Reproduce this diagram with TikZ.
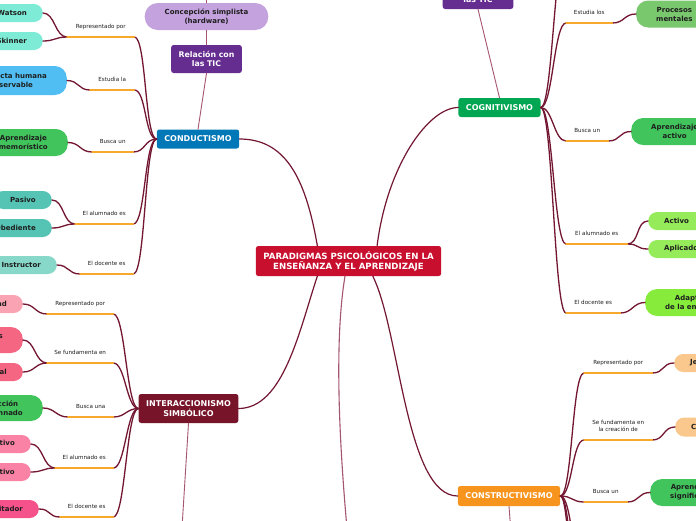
\documentclass[tikz,border=0pt]{standalone}
\usepackage{fontspec}
\setmainfont{DejaVu Sans}

\definecolor{rojoc}{RGB}{200,16,46}
\definecolor{azulc}{RGB}{0,119,182}
\definecolor{verdec}{RGB}{0,166,81}
\definecolor{granatec}{RGB}{120,20,42}
\definecolor{naranjac}{RGB}{247,148,29}
\definecolor{morado}{RGB}{102,45,145}
\definecolor{lila}{RGB}{196,162,222}
\definecolor{granate}{RGB}{115,22,50}
\definecolor{naranja}{RGB}{247,168,45}
\definecolor{rosaviejo}{RGB}{165,85,110}
\definecolor{aguamarina}{RGB}{125,235,213}
\definecolor{celeste}{RGB}{80,190,242}
\definecolor{verdeh}{RGB}{66,196,92}
\definecolor{turquesa}{RGB}{85,196,180}
\definecolor{menta}{RGB}{135,216,200}
\definecolor{rosa}{RGB}{250,163,178}
\definecolor{rosaf}{RGB}{245,102,130}
\definecolor{rosam}{RGB}{250,130,165}
\definecolor{fucsia}{RGB}{245,82,140}
\definecolor{verdep}{RGB}{122,200,110}
\definecolor{lima}{RGB}{150,235,90}
\definecolor{limaf}{RGB}{135,235,60}
\definecolor{melocoton}{RGB}{250,200,140}
\definecolor{tinta}{RGB}{30,30,30}

\begin{document}
\begin{tikzpicture}[x=1pt, y=-1pt, line cap=round, line join=round,
  tema/.style={fill=#1, text=white, font=\fontsize{8}{10}\selectfont\bfseries, rounded corners=2.5pt,
    minimum height=19pt, inner xsep=7.5pt, inner ysep=2pt, align=center},
  hoja/.style={fill=#1, text=tinta, font=\fontsize{7}{9}\selectfont\bfseries, rounded corners=9pt,
    minimum height=18pt, inner xsep=16pt, inner ysep=2pt, align=center},
  hojados/.style={hoja=#1, minimum height=27pt, inner xsep=20pt, rounded corners=12pt},
  etiq/.style={anchor=south west, font=\fontsize{5.6}{7}\selectfont, text=tinta, inner xsep=0pt,
    inner ysep=8pt, text depth=0pt, align=center},
  rama/.style={draw=granate, line width=1.3pt},
  subr/.style={draw=naranja, line width=1.4pt},
  tronco/.style={draw=granate, line width=1.2pt},
  enlace/.style={draw=rosaviejo, line width=0.9pt}]

\useasboundingbox[fill=white] (0,0) rectangle (696,520);
\clip (0,0) rectangle (696,520);

% centro y temas
\node[tema=rojoc, font=\fontsize{8.6}{10}\selectfont\bfseries, minimum height=30pt] (par) at (348.5,261) {PARADIGMAS PSICOLÓGICOS EN LA\\ENSEÑANZA Y EL APRENDIZAJE};
\node[tema=azulc] (cond) at (198,139) {CONDUCTISMO};
\node[tema=verdec] (cogn) at (499.5,107.5) {COGNITIVISMO};
\node[tema=granatec, minimum height=29pt] (inter) at (188.5,408.5) {INTERACCIONISMO\\SIMBÓLICO};
\node[tema=naranjac, minimum height=20pt] (cons) at (509,496) {CONSTRUCTIVISMO};
\node[tema=morado, font=\fontsize{7.8}{9.5}\selectfont\bfseries, minimum height=28pt] (ticI) at (206.5,59) {Relación con\\las TIC};
\node[tema=morado, font=\fontsize{7.8}{9.5}\selectfont\bfseries, minimum height=28pt] (ticD) at (478,-5) {Relación con\\las TIC};
\node[hojados=lila, rounded corners=13pt] (concep) at (206.5,16.5) {Concepción simplista\\(hardware)};

\coordinate (arrI) at (207,-40);
\coordinate (bajoI) at (180,560);
\coordinate (bajoP) at (350,560);
\coordinate (bajoC) at (513,560);
\coordinate (cgZ) at (566,-50);
\coordinate (csZa) at (584,570);
\coordinate (csZb) at (584,640);
\coordinate (csZc) at (584,710);

\draw[tronco] (cond.east) .. controls +(45,0) and +(-12,-70) .. (par.154);
\draw[tronco] (cogn.west) .. controls +(-30,0) and +(10,-80) .. (par.28);
\draw[tronco] (par.206) .. controls +(-18,54) and +(45,0) .. (inter.east);
\draw[tronco] (par.328) .. controls +(27,54) and +(-52,0) .. (cons.west);
\draw[enlace, line width=1.1pt] (par.257) .. controls (336,330) and (336,420) .. (bajoP);
\draw[enlace] (cond.north) -- (ticI.south);
\draw[enlace] (ticI.north) -- (concep.south);
\draw[enlace] (concep.north) -- (arrI);
\draw[enlace] (ticD.south) -- (cogn.north);
\draw[enlace] (inter.south) -- (bajoI);
\draw[enlace] (cons.south) -- (bajoC);

% conductismo
\node[etiq, minimum width=67pt] (cdA) at (67,37) {Representado por};
\node[etiq, minimum width=44pt] (cdB) at (90,90) {Estudia la};
\node[etiq, minimum width=41pt] (cdC) at (92,152) {Busca un};
\node[etiq, minimum width=58pt] (cdD) at (75,224) {El alumnado es};
\node[etiq, minimum width=53pt] (cdE) at (80,274) {El docente es};
\node[hoja=aguamarina, anchor=east] (wat) at (43,13) {Watson};
\node[hoja=aguamarina, anchor=east] (ski) at (43,41) {Skinner};
\node[hojados=celeste, anchor=east, minimum height=29pt] (obs) at (67,80.5) {Conducta humana\\observable};
\node[hojados=verdeh, anchor=east] (mem) at (68,142.5) {Aprendizaje\\memorístico};
\node[hoja=turquesa, anchor=east] (pas) at (52,200) {Pasivo};
\node[hoja=turquesa, anchor=east] (obe) at (52,228) {Obediente};
\node[hoja=menta, anchor=east] (ins) at (57,265) {Instructor};
\draw[rama] (cond.west) .. controls +(-12,0) and +(12,0) .. (cdA.south east);
\draw[rama] (cond.west) .. controls +(-12,0) and +(12,0) .. (cdB.south east);
\draw[rama] (cond.west) .. controls +(-12,0) and +(12,0) .. (cdC.south east);
\draw[rama] (cond.west) .. controls +(-12,0) and +(12,0) .. (cdD.south east);
\draw[rama] (cond.west) .. controls +(-12,0) and +(12,0) .. (cdE.south east);
\draw[rama] (cdA.south west) .. controls +(-12,0) and +(12,0) .. (wat.east);
\draw[rama] (cdA.south west) .. controls +(-12,0) and +(12,0) .. (ski.east);
\draw[rama] (cdB.south west) .. controls +(-12,0) and +(12,0) .. (obs.east);
\draw[rama] (cdC.south west) .. controls +(-12,0) and +(12,0) .. (mem.east);
\draw[rama] (cdD.south west) .. controls +(-12,0) and +(12,0) .. (pas.east);
\draw[rama] (cdD.south west) .. controls +(-12,0) and +(12,0) .. (obe.east);
\draw[rama] (cdE.south west) .. controls +(-12,0) and +(12,0) .. (ins.east);
\draw[subr] (cdA.south west) -- (cdA.south east);
\draw[subr] (cdB.south west) -- (cdB.south east);
\draw[subr] (cdC.south west) -- (cdC.south east);
\draw[subr] (cdD.south west) -- (cdD.south east);
\draw[subr] (cdE.south west) -- (cdE.south east);

% interaccionismo simbolico
\node[etiq, minimum width=66pt] (inA) at (47,314) {Representado por};
\node[etiq, minimum width=66pt] (inB) at (47,363) {Se fundamenta en};
\node[etiq, minimum width=45pt] (inC) at (68,417) {Busca una};
\node[etiq, minimum width=58pt] (inD) at (55,468) {El alumnado es};
\node[etiq, minimum width=53pt] (inE) at (60,517) {El docente es};
\node[hoja=rosa, anchor=east] (mead) at (23,304) {Mead};
\node[hojados=rosaf, anchor=east, minimum height=26pt] (simb) at (23,340) {Los símbolos\\sociales};
\node[hoja=rosaf, anchor=east] (soc) at (23,372) {Interacción social};
\node[hojados=verdeh, anchor=east, minimum height=26pt] (intal) at (43,408) {Interacción\\del alumnado};
\node[hoja=rosam, anchor=east] (part) at (31,444) {Participativo};
\node[hoja=rosam, anchor=east] (colab) at (31,472) {Colaborativo};
\node[hoja=fucsia, anchor=east] (fac) at (39,509) {Facilitador};
\draw[rama] (inter.west) .. controls +(-12,0) and +(12,0) .. (inA.south east);
\draw[rama] (inter.west) .. controls +(-12,0) and +(12,0) .. (inB.south east);
\draw[rama] (inter.west) .. controls +(-12,0) and +(12,0) .. (inC.south east);
\draw[rama] (inter.west) .. controls +(-12,0) and +(12,0) .. (inD.south east);
\draw[rama] (inter.west) .. controls +(-12,0) and +(12,0) .. (inE.south east);
\draw[rama] (inA.south west) .. controls +(-12,0) and +(12,0) .. (mead.east);
\draw[rama] (inB.south west) .. controls +(-12,0) and +(12,0) .. (simb.east);
\draw[rama] (inB.south west) .. controls +(-12,0) and +(12,0) .. (soc.east);
\draw[rama] (inC.south west) .. controls +(-12,0) and +(12,0) .. (intal.east);
\draw[rama] (inD.south west) .. controls +(-12,0) and +(12,0) .. (part.east);
\draw[rama] (inD.south west) .. controls +(-12,0) and +(12,0) .. (colab.east);
\draw[rama] (inE.south west) .. controls +(-12,0) and +(12,0) .. (fac.east);
\draw[subr] (inA.south west) -- (inA.south east);
\draw[subr] (inB.south west) -- (inB.south east);
\draw[subr] (inC.south west) -- (inC.south east);
\draw[subr] (inD.south west) -- (inD.south east);
\draw[subr] (inE.south west) -- (inE.south east);

% cognitivismo
\node[etiq, minimum width=46pt] (cgA) at (566,23) {Estudia los};
\node[etiq, minimum width=42pt] (cgB) at (566,141) {Busca un};
\node[etiq, minimum width=61pt] (cgC) at (566,244) {El alumnado es};
\node[etiq, minimum width=54pt] (cgD) at (566,313) {El docente es};
\node[hojados=verdep, anchor=west] (proc) at (636,14) {Procesos\\mentales};
\node[hojados=verdeh, anchor=west] (aact) at (631,131.5) {Aprendizaje\\activo};
\node[hoja=lima, anchor=west] (acti) at (648,221) {Activo};
\node[hoja=lima, anchor=west] (apli) at (648,249) {Aplicado};
\node[hojados=limaf, anchor=west] (adap) at (645,302.5) {Adaptación\\de la enseñanza};
\draw[rama] (cogn.east) .. controls +(12,0) and +(-12,0) .. (cgZ);
\draw[rama] (cogn.east) .. controls +(12,0) and +(-12,0) .. (cgA.south west);
\draw[rama] (cogn.east) .. controls +(12,0) and +(-12,0) .. (cgB.south west);
\draw[rama] (cogn.east) .. controls +(12,0) and +(-12,0) .. (cgC.south west);
\draw[rama] (cogn.east) .. controls +(12,0) and +(-12,0) .. (cgD.south west);
\draw[rama] (cgA.south east) .. controls +(12,0) and +(-12,0) .. (proc.west);
\draw[rama] (cgB.south east) .. controls +(12,0) and +(-12,0) .. (aact.west);
\draw[rama] (cgC.south east) .. controls +(12,0) and +(-12,0) .. (acti.west);
\draw[rama] (cgC.south east) .. controls +(12,0) and +(-12,0) .. (apli.west);
\draw[rama] (cgD.south east) .. controls +(12,0) and +(-12,0) .. (adap.west);
\draw[subr] (cgA.south west) -- (cgA.south east);
\draw[subr] (cgB.south west) -- (cgB.south east);
\draw[subr] (cgC.south west) -- (cgC.south east);
\draw[subr] (cgD.south west) -- (cgD.south east);

% constructivismo
\node[etiq, minimum width=68pt] (csA) at (584,373) {Representado por};
\node[etiq, minimum width=68pt] (csB) at (584,440) {Se fundamenta en\\la creación de};
\node[etiq, minimum width=43pt] (csC) at (584,502) {Busca un};
\node[hoja=melocoton, anchor=west] (piag) at (674,363) {Jean Piaget};
\node[hoja=melocoton, anchor=west, minimum height=19pt] (cono) at (675,427) {Conocimiento};
\node[hojados=verdeh, anchor=west] (asig) at (650,492.5) {Aprendizaje\\significativo};
\draw[rama] (cons.east) .. controls +(12,0) and +(-12,0) .. (csA.south west);
\draw[rama] (cons.east) .. controls +(12,0) and +(-12,0) .. (csB.south west);
\draw[rama] (cons.east) .. controls +(12,0) and +(-12,0) .. (csC.south west);
\draw[rama] (cons.east) .. controls +(12,0) and +(-12,0) .. (csZa);
\draw[rama] (cons.east) .. controls +(12,0) and +(-12,0) .. (csZb);
\draw[rama] (cons.east) .. controls +(12,0) and +(-12,0) .. (csZc);
\draw[rama] (csA.south east) .. controls +(12,0) and +(-12,0) .. (piag.west);
\draw[rama] (csB.south east) .. controls +(12,0) and +(-12,0) .. (cono.west);
\draw[rama] (csC.south east) .. controls +(12,0) and +(-12,0) .. (asig.west);
\draw[subr] (csA.south west) -- (csA.south east);
\draw[subr] (csB.south west) -- (csB.south east);
\draw[subr] (csC.south west) -- (csC.south east);

\end{tikzpicture}
\end{document}
